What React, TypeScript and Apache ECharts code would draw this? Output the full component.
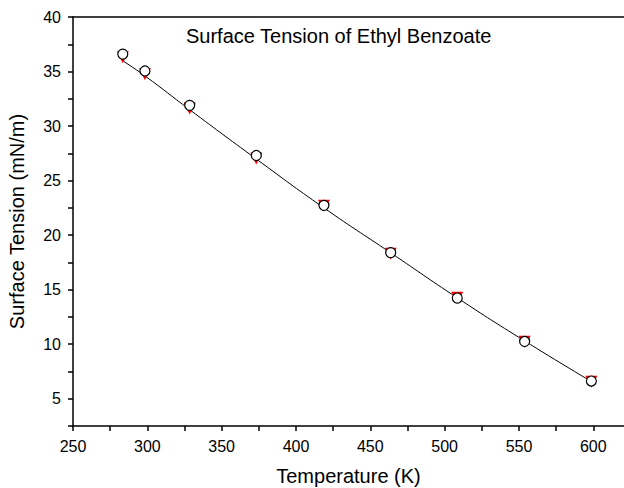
import React, { useEffect, useRef } from "react";
import * as echarts from "echarts";

const temperatures = [283.5, 298.4, 328.5, 373.3, 418.8, 463.7, 508.5, 553.8, 598.7];
const measured = [36.6, 35.05, 31.9, 27.3, 22.73, 18.4, 14.23, 10.25, 6.62];
const predicted = [36.3, 34.75, 31.6, 27.02, 22.7, 18.3, 14.25, 10.22, 6.55];
const fitX = [282.7, 298.4, 328.5, 373.3, 418.8, 463.7, 508.5, 553.8, 598.2];
const fitY = [36.05, 34.6, 31.5, 26.98, 22.5, 18.38, 14.25, 10.3, 6.62];
const xTicks = [250, 300, 350, 400, 450, 500, 550, 600];
const yTicks = [5, 10, 15, 20, 25, 30, 35, 40];

const FONT = "Arial, 'Liberation Sans', sans-serif";

export default function App() {
  const ref = useRef<HTMLDivElement>(null);
  useEffect(() => {
    if (!ref.current) return;
    const chart = echarts.init(ref.current, undefined, { renderer: "svg" });
    const pair = (xs: number[], ys: number[]) => xs.map((x, i) => [x, ys[i]]);
    chart.setOption({
      animation: false,
      backgroundColor: "#ffffff",
      title: {
        text: "Surface Tension of Ethyl Benzoate",
        left: 186,
        top: 26,
        padding: 0,
        textStyle: { fontFamily: FONT, fontSize: 20, fontWeight: "normal", color: "#000" },
      },
      grid: { left: 73, top: 17, right: 0, bottom: 62, outerBoundsMode: "none" },
      xAxis: [
        {
          type: "value",
          min: 250,
          max: 620.65,
          interval: 25,
          name: "Temperature (K)",
          nameLocation: "middle",
          nameGap: 40,
          nameTextStyle: { fontFamily: FONT, fontSize: 20, color: "#000" },
          axisLine: { show: true, lineStyle: { color: "#000", width: 1.5 } },
          axisTick: { show: true, length: 5, inside: false, lineStyle: { color: "#000", width: 1.5 } },
          axisLabel: {
            fontFamily: FONT,
            fontSize: 16,
            color: "#000",
            margin: 12,
            showMaxLabel: false,
            formatter: (v: number) => (xTicks.includes(v) ? String(v) : ""),
          },
          splitLine: { show: false },
        },
        {
          type: "value",
          position: "top",
          min: 250,
          max: 620.65,
          axisLine: { show: true, onZero: false, lineStyle: { color: "#000", width: 1.5 } },
          axisTick: { show: false },
          axisLabel: { show: false },
          splitLine: { show: false },
        },
      ],
      yAxis: {
        type: "value",
        min: 2.5,
        max: 40,
        interval: 2.5,
        name: "Surface Tension (mN/m)",
        nameLocation: "middle",
        nameGap: 46,
        nameTextStyle: { fontFamily: FONT, fontSize: 20, color: "#000" },
        axisLine: { show: true, onZero: false, lineStyle: { color: "#000", width: 1.5 } },
        axisTick: { show: true, length: 5, lineStyle: { color: "#000", width: 1.5 } },
        axisLabel: {
          fontFamily: FONT,
          fontSize: 16,
          color: "#000",
          margin: 12,
          formatter: (v: number) => (yTicks.includes(v) ? String(v) : ""),
        },
        splitLine: { show: false },
      },
      series: [
        {
          type: "line",
          data: pair(fitX, fitY),
          smooth: true,
          showSymbol: false,
          symbol: "none",
          lineStyle: { color: "#000", width: 1 },
          z: 1,
        },
        {
          type: "scatter",
          data: pair(temperatures, predicted),
          symbol: "triangle",
          symbolRotate: 180,
          symbolSize: 12,
          itemStyle: { color: "#ff0000", opacity: 1 },
          z: 2,
        },
        {
          type: "scatter",
          data: pair(temperatures, measured),
          symbol: "circle",
          symbolSize: 10,
          itemStyle: { color: "#ffffff", borderColor: "#000", borderWidth: 1.2, opacity: 1 },
          z: 3,
        },
      ],
    });
    return () => chart.dispose();
  }, []);
  return (
    <div
      ref={ref}
      style={{ position: "absolute", left: 0, top: 0, width: 624, height: 488 }}
    />
  );
}
